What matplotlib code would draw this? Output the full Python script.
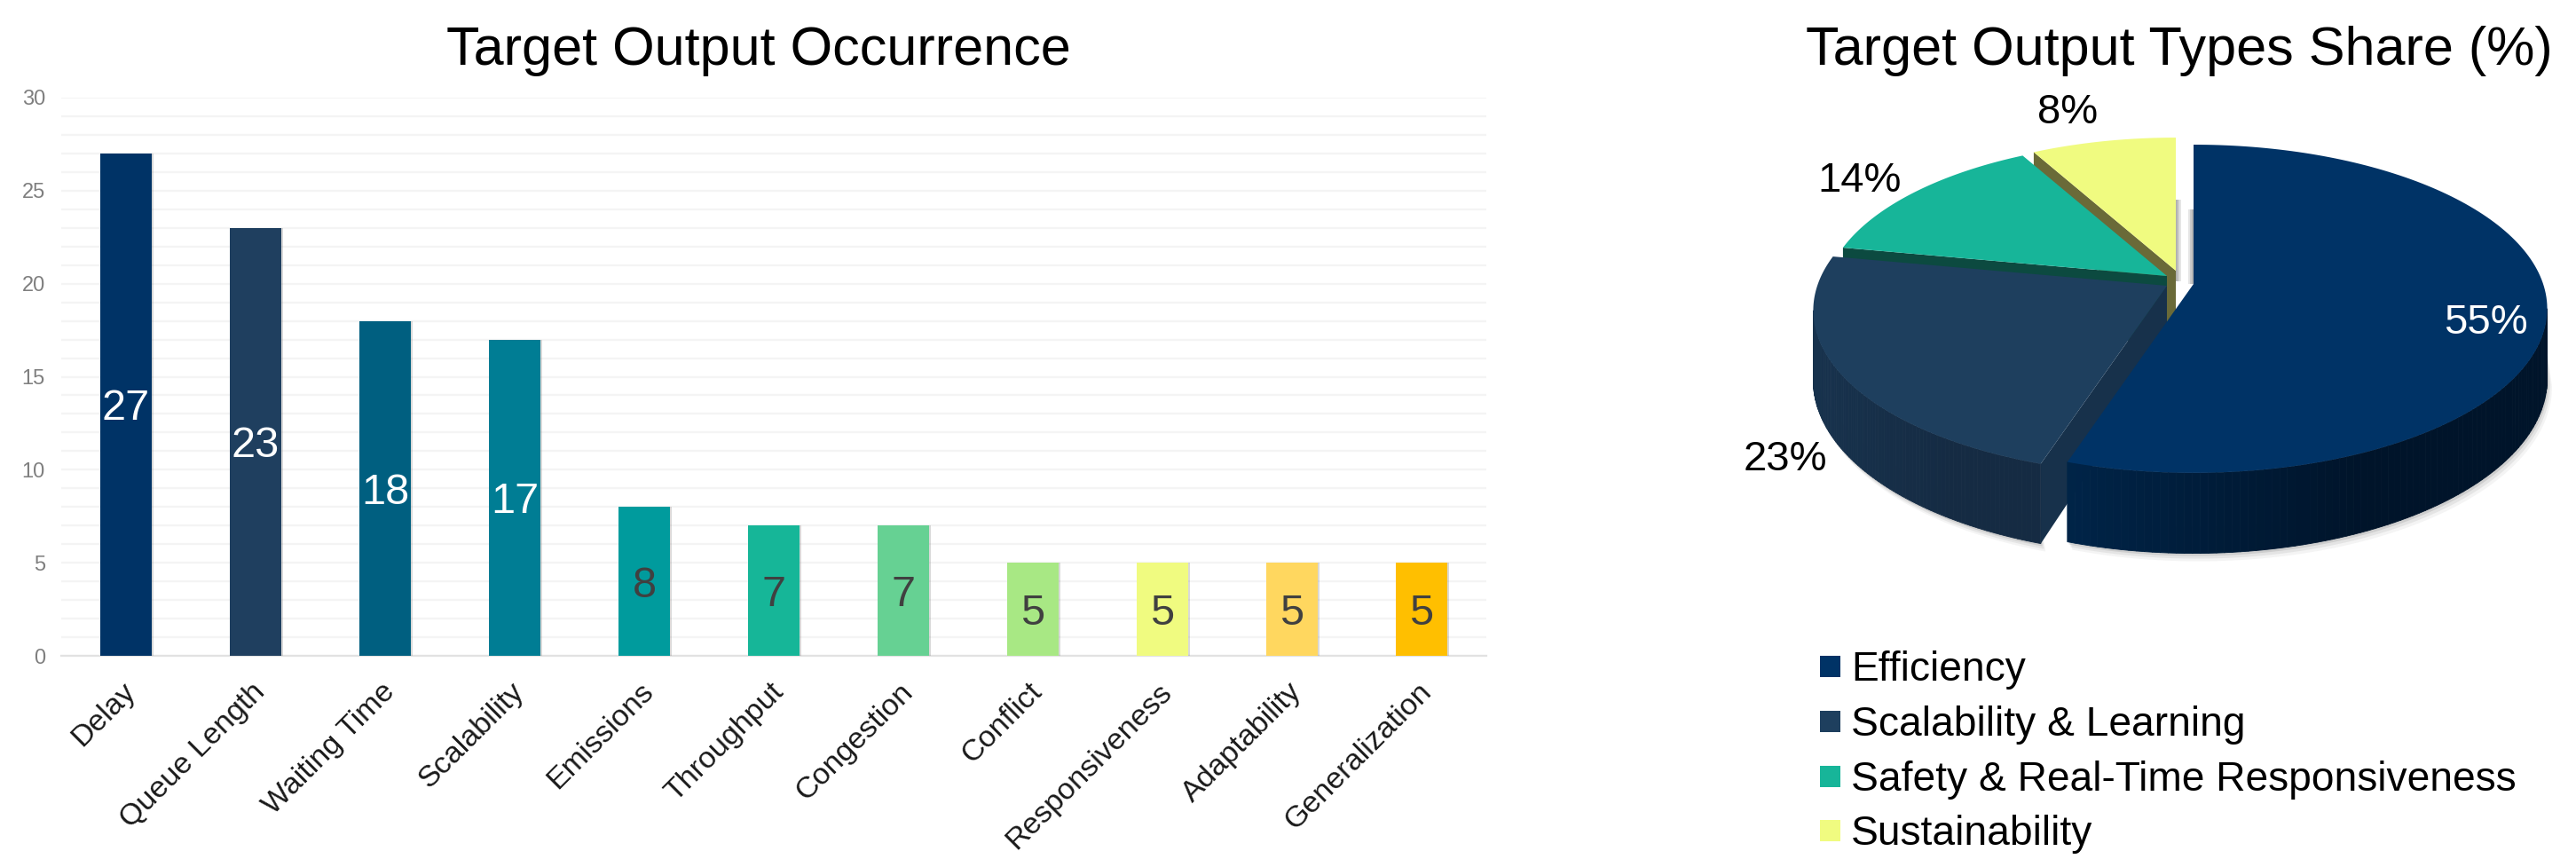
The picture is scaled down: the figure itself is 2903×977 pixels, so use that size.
import numpy as np
import matplotlib
matplotlib.use("Agg")
import matplotlib.pyplot as plt
import matplotlib.patheffects as pe
from matplotlib.collections import PolyCollection
from matplotlib.colors import to_rgb
from matplotlib.transforms import ScaledTranslation

plt.rcParams['font.family'] = ['Liberation Sans', 'DejaVu Sans']

# data
outputs = ["Delay", "Queue Length", "Waiting Time", "Scalability", "Emissions", "Throughput",
	"Congestion", "Conflict", "Responsiveness", "Adaptability", "Generalization"]
occurrence = [27, 23, 18, 17, 8, 7, 7, 5, 5, 5, 5]
bar_colors = ["#003366", "#1f3f5f", "#005f80", "#007d94", "#009b9d", "#16b698",
	"#66d193", "#a8e884", "#f0fb80", "#ffd75f", "#ffbf00"]
label_colors = ["white"] * 4 + ["#404040"] * 7

types = ["Efficiency", "Scalability & Learning", "Safety & Real-Time Responsiveness", "Sustainability"]
shares = [55, 23, 14, 8]
top_colors = ["#003366", "#1e3f5e", "#17b599", "#f0fb80"]
cut_colors = ["#001a35", "#17314b", "#0c4a40", "#6a6a38"]
wall_left = ["#002448", "#17324d", "#0c4a40", "#6a6a38"]
wall_right = ["#00142a", "#152b43", "#0c4a40", "#6a6a38"]

W, H = 2903, 977
fig = plt.figure(figsize=(W / 100, H / 100), dpi=100)

def px_rect(left, top, right, bottom):
	return [left / W, 1 - bottom / H, (right - left) / W, (bottom - top) / H]

# bar chart
ax = fig.add_axes(px_rect(69, 110, 1675, 739))
x = np.arange(len(outputs))
bars = ax.bar(x, occurrence, 0.4, color=bar_colors, zorder=3)
for rect in bars:
	rect.set_path_effects([pe.SimplePatchShadow(offset=(1.5, 0), alpha=0.22, shadow_rgbFace="#555555"), pe.Normal()])
for i, value in enumerate(occurrence):
	ax.text(i, value / 2, str(value), ha='center', va='center_baseline', fontsize=35,
		color=label_colors[i], zorder=4)
ax.set_xlim(-0.5, len(outputs) - 0.5)
ax.set_ylim(0, 30)
ax.set_yticks(range(0, 35, 5))
ax.set_yticks(range(0, 31), minor=True)
ax.grid(True, axis='y', which='both', color='#f4f4f4', lw=1.6, zorder=0)
ax.tick_params(axis='y', which='both', length=0, pad=13, labelsize=17, labelcolor='#7f7f7f')
ax.tick_params(axis='x', length=0, pad=18)
ax.set_xticks(x)
ax.set_xticklabels(outputs, rotation=45, ha='right', va='top', rotation_mode='anchor',
	fontsize=24.5, color='#1a1a1a')
shift = ScaledTranslation(-5 / 100, 0, fig.dpi_scale_trans)
for label in ax.get_xticklabels():
	label.set_transform(label.get_transform() + shift)
for side in ['top', 'left', 'right']:
	ax.spines[side].set_visible(False)
ax.spines['bottom'].set_color('#e2e2e2')
ax.spines['bottom'].set_linewidth(1.6)

fig.text(855 / W, 1 - 73 / H, "Target Output Occurrence", fontsize=44, ha='center', va='baseline', color='black')
fig.text(2456 / W, 1 - 73 / H, "Target Output Types Share (%)", fontsize=44, ha='center', va='baseline', color='black')

# pie, drawn in pixel coordinates of the figure with a perspective tilt
pie = fig.add_axes([0, 0, 1, 1], facecolor='none')
pie.set_xlim(0, W)
pie.set_ylim(H, 0)
pie.axis('off')

RX, RY, TILT, DEPTH = 394, 180.7, 0.151, 77
apexes = [(2472, 320), (2442, 322), (2442, 311), (2452, 305)]
scales = [1.0, 1.0, 0.97, 0.955]
FRONT_FROM, FRONT_TO = 98.7, 261.3

def project(apex, deg, scale=1.0):
	t = np.radians(deg)
	d = 1 + TILT * np.cos(t)
	return apex[0] + scale * RX * np.sin(t) / d, apex[1] - scale * RY * np.cos(t) / d

def drop(deg):
	return DEPTH / (1 + TILT * np.cos(np.radians(deg)))

def mix(c1, c2, f):
	a, b = np.array(to_rgb(c1)), np.array(to_rgb(c2))
	return tuple(a + (b - a) * f)

edges = np.concatenate([[0], np.cumsum(shares)]) * 3.6

# soft shadow under the walls
for i in [1, 0]:
	a0, a1 = max(edges[i], FRONT_FROM), min(edges[i + 1], FRONT_TO)
	degs = np.linspace(a0, a1, 80)
	px, py = project(apexes[i], degs, scales[i])
	py = py + drop(degs)
	for grow, alpha in [(9, 0.05), (6, 0.08), (3, 0.12)]:
		pie.fill(np.r_[px + grow * 0.6, px[::-1]], np.r_[py + grow, py[::-1] - 30], color='#333333', alpha=alpha, lw=0)

# back slices first, the front slice covers the rest
for i in range(len(shares) - 1, -1, -1):
	apex, scale = apexes[i], scales[i]
	a0, a1 = edges[i], edges[i + 1]
	# cut face on the leading edge
	if i > 0:
		cx, cy = project(apex, a0, scale)
		h = drop(a0)
		pie.fill([cx, apex[0], apex[0], cx], [cy, apex[1], apex[1] + DEPTH, cy + h], color=cut_colors[i], lw=0)
	# outer wall, split so it can shade from left to right
	w0, w1 = max(a0, FRONT_FROM), min(a1, FRONT_TO)
	if w1 > w0:
		degs = np.linspace(w0, w1, 90)
		px, py = project(apex, degs, scale)
		lo = py + drop(degs)
		quads, cols = [], []
		for j in range(len(degs) - 1):
			quads.append([(px[j], py[j]), (px[j + 1], py[j + 1]), (px[j + 1], lo[j + 1]), (px[j], lo[j])])
			f = (px[j] - px.min()) / (px.max() - px.min())
			cols.append(mix(wall_left[i], wall_right[i], min(1, f * 1.6)))
		pie.add_collection(PolyCollection(quads, facecolors=cols, edgecolors=cols, linewidths=0.6))
	# top face
	degs = np.linspace(a0, a1, 160)
	px, py = project(apex, degs, scale)
	pie.fill(np.r_[apex[0], px], np.r_[apex[1], py], color=top_colors[i], lw=0)

# grey shading in the gap next to the yellow slice
for off, alpha in [(1, 0.45), (3, 0.3), (5, 0.15)]:
	pie.fill_between([apexes[3][0] + off - 1, apexes[3][0] + off + 1], apexes[3][1] - 80, apexes[3][1] + 12,
		color='#555555', alpha=alpha, lw=0)
	pie.fill_between([apexes[0][0] - off - 1, apexes[0][0] - off + 1], apexes[0][1] - 84, apexes[0][1],
		color='#555555', alpha=alpha, lw=0)

# percent labels
label_xy = [(2801, 364), (2012, 518), (2096, 204), (2330, 127)]
for i, share in enumerate(shares):
	pie.text(label_xy[i][0], label_xy[i][1], f"{share}%", fontsize=34, ha='center', va='center',
		color='white' if i == 0 else 'black')

# legend
for i, name in enumerate(types):
	y = 751 + i * 61.8
	pie.fill([2051, 2074, 2074, 2051], [y - 12, y - 12, y + 12, y + 12], color=top_colors[i], lw=0)
	pie.text(2086, y + 16, name, fontsize=33.2, ha='left', va='baseline', color='black')

fig.savefig("out.png", dpi=100)
